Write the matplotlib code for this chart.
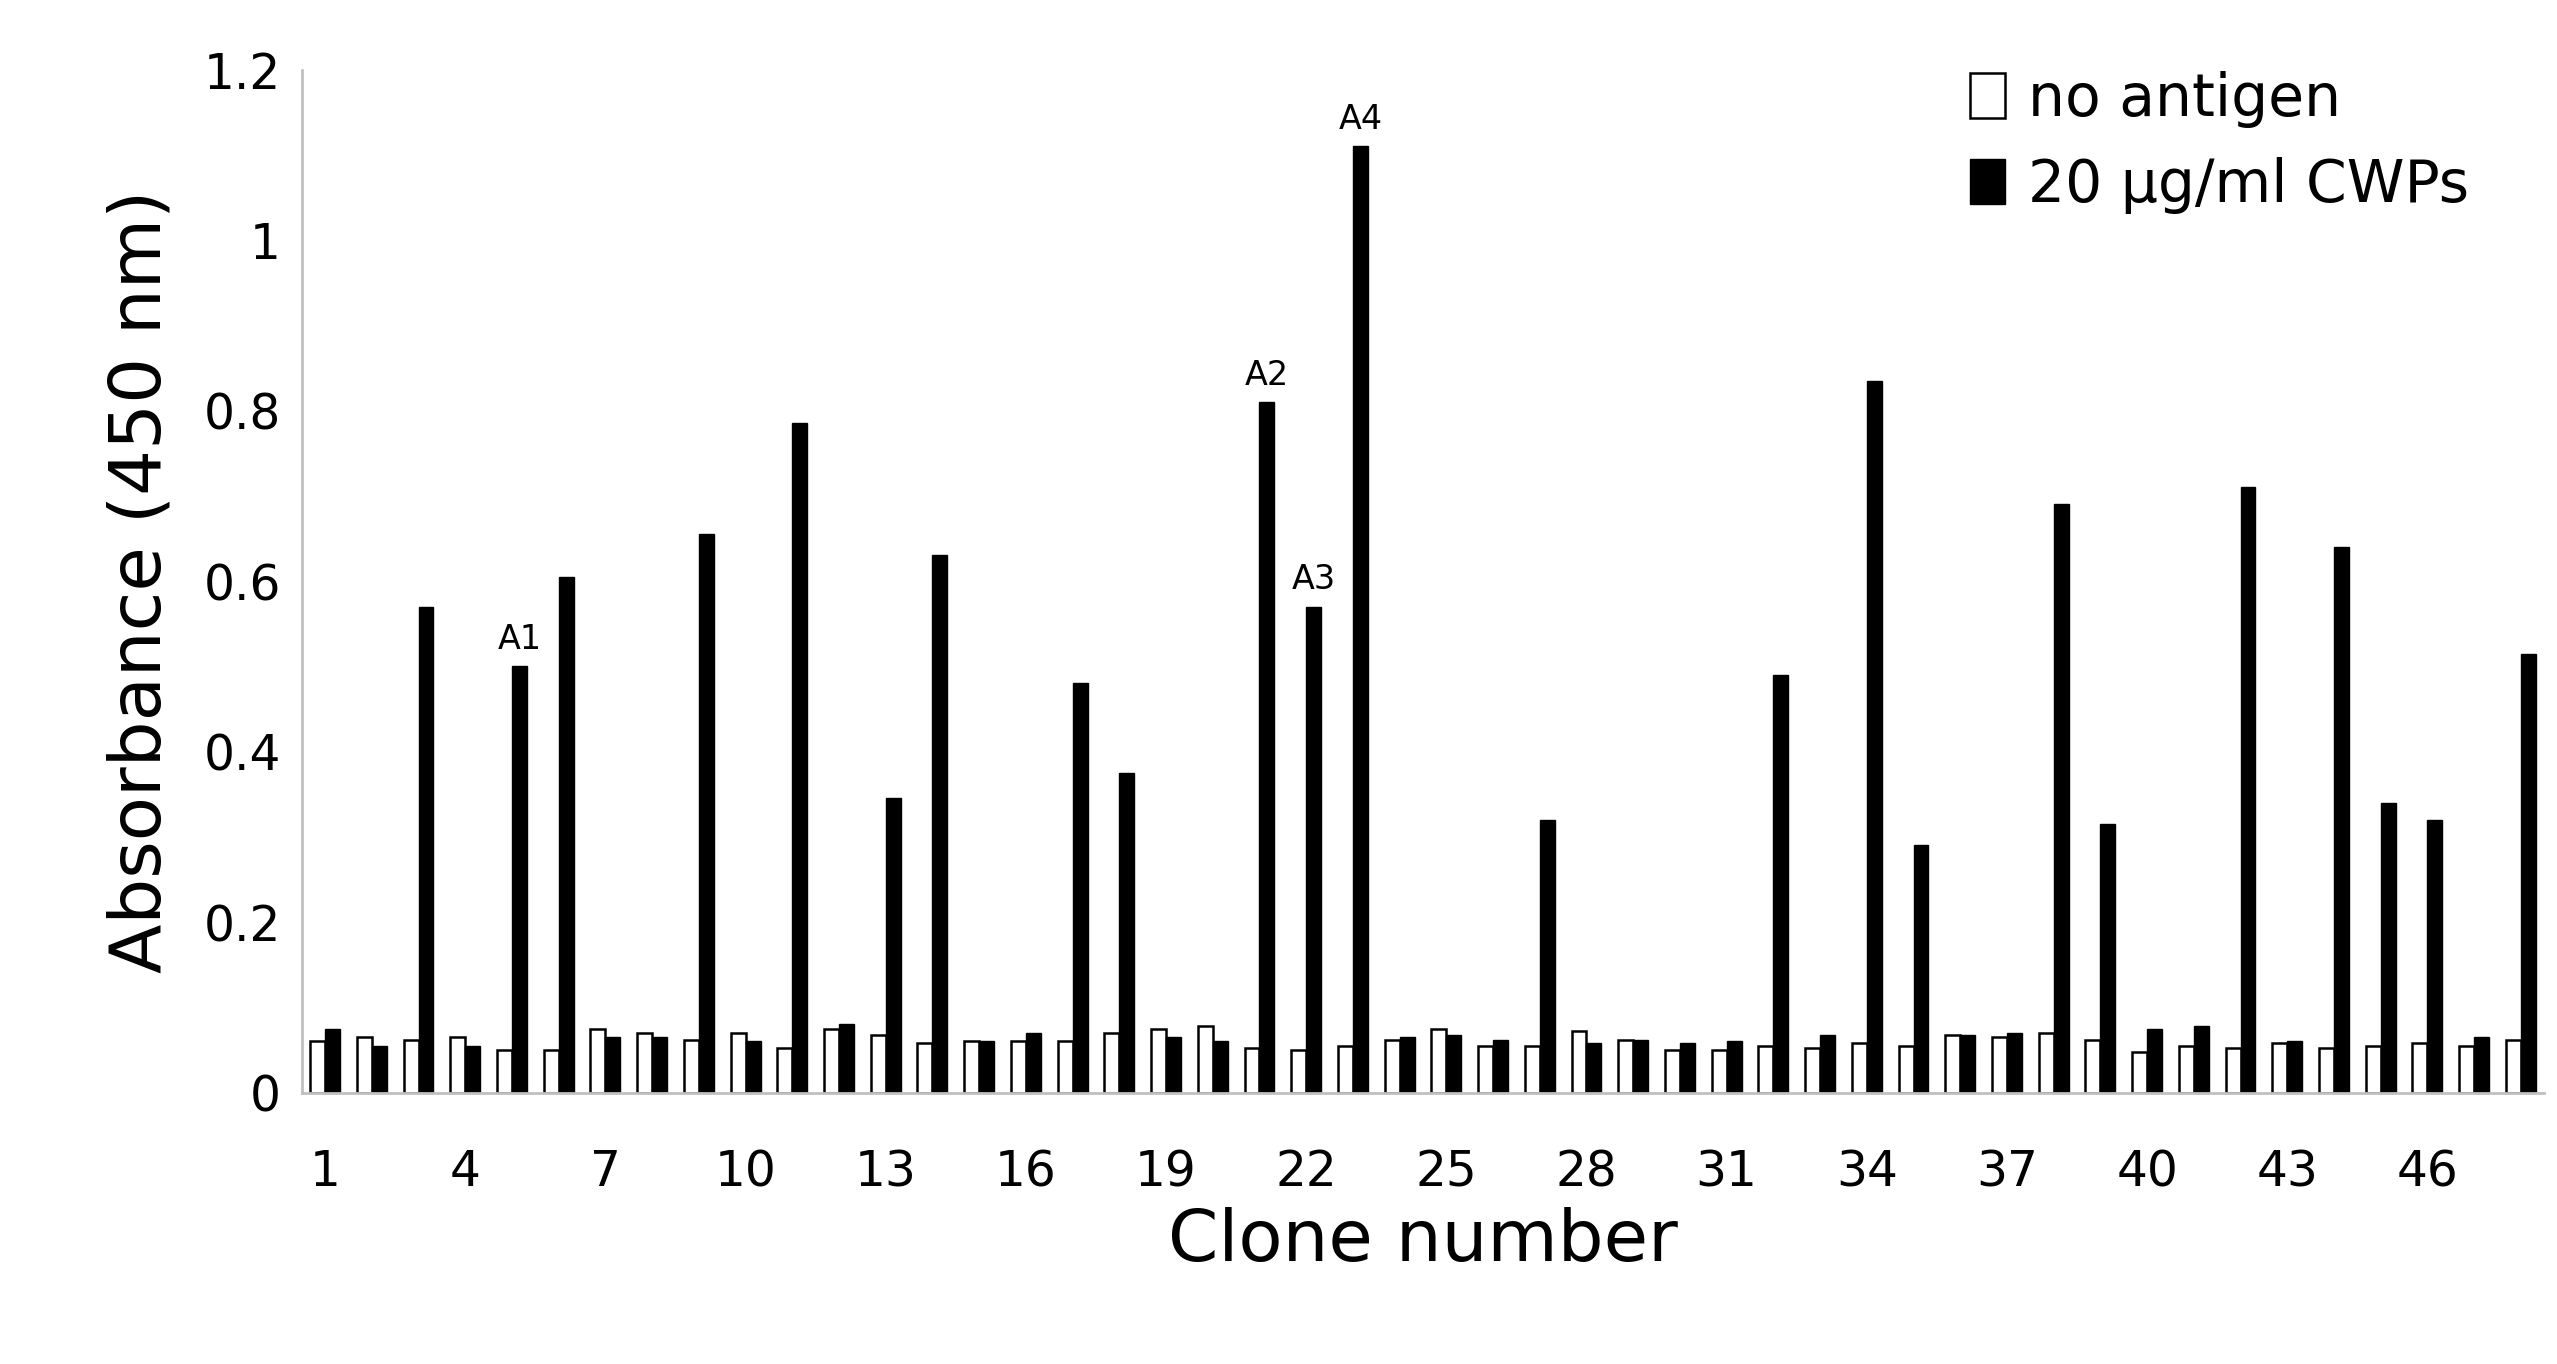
import matplotlib
matplotlib.use("Agg")
import matplotlib.pyplot as plt
import numpy as np

clones = list(range(1, 49))
no_antigen = [0.06,0.065,0.062,0.065,0.05,0.05,0.075,0.07,0.062,0.07,0.052,0.075,0.068,0.058,0.06,0.06,
              0.06,0.07,0.075,0.078,0.052,0.05,0.055,0.062,0.075,0.055,0.055,0.072,0.062,0.05,0.05,0.055,
              0.052,0.058,0.055,0.068,0.065,0.07,0.062,0.048,0.055,0.052,0.058,0.052,0.055,0.058,0.055,0.062]
cwps = [0.075,0.055,0.57,0.055,0.50,0.605,0.065,0.065,0.655,0.06,0.785,0.08,0.345,0.63,0.06,0.07,
        0.48,0.375,0.065,0.06,0.81,0.57,1.11,0.065,0.068,0.062,0.32,0.058,0.062,0.058,0.06,0.49,
        0.068,0.835,0.29,0.068,0.07,0.69,0.315,0.075,0.078,0.71,0.06,0.64,0.34,0.32,0.065,0.515]
annotations = {5: "A1", 21: "A2", 22: "A3", 23: "A4"}
tick_labels = list(range(1, 47, 3))

fig = plt.figure(figsize=(25.57, 13.64), dpi=100)
ax = fig.add_axes([0.118, 0.199, 0.877, 0.75])
x = np.array(clones)
w = 0.32
ax.bar(x - w/2, no_antigen, w, color="white", edgecolor="black", linewidth=1.8, label="no antigen")
ax.bar(x + w/2, cwps, w, color="black", edgecolor="black", linewidth=1.0, label="20 μg/ml CWPs")
for c, t in annotations.items():
    ax.text(c + w/2, cwps[c-1] + 0.012, t, ha="center", va="bottom", fontsize=24)
ax.set_xlim(0.5, 48.5)
ax.set_ylim(0, 1.2)
ax.set_yticks([0, 0.2, 0.4, 0.6, 0.8, 1.0, 1.2])
ax.set_yticklabels(["0", "0.2", "0.4", "0.6", "0.8", "1", "1.2"])
ax.set_xticks(tick_labels)
ax.set_xticklabels([str(t) for t in tick_labels])
ax.tick_params(axis="both", labelsize=35, length=0)
ax.tick_params(axis="x", pad=40)
ax.tick_params(axis="y", pad=15)
for s in ["top", "right"]:
    ax.spines[s].set_visible(False)
for s in ["left", "bottom"]:
    ax.spines[s].set_color("#c0c0c0")
    ax.spines[s].set_linewidth(2)
ax.set_xlabel("Clone number", fontsize=52, labelpad=8)
ax.set_ylabel("Absorbance (450 nm)", fontsize=52, labelpad=20)
ax.legend(loc="upper right", fontsize=42, frameon=False, handlelength=0.6, handleheight=0.8,
          handletextpad=0.4, bbox_to_anchor=(0.99, 1.05), labelspacing=0.5)
fig.savefig("out.png", dpi=100)
